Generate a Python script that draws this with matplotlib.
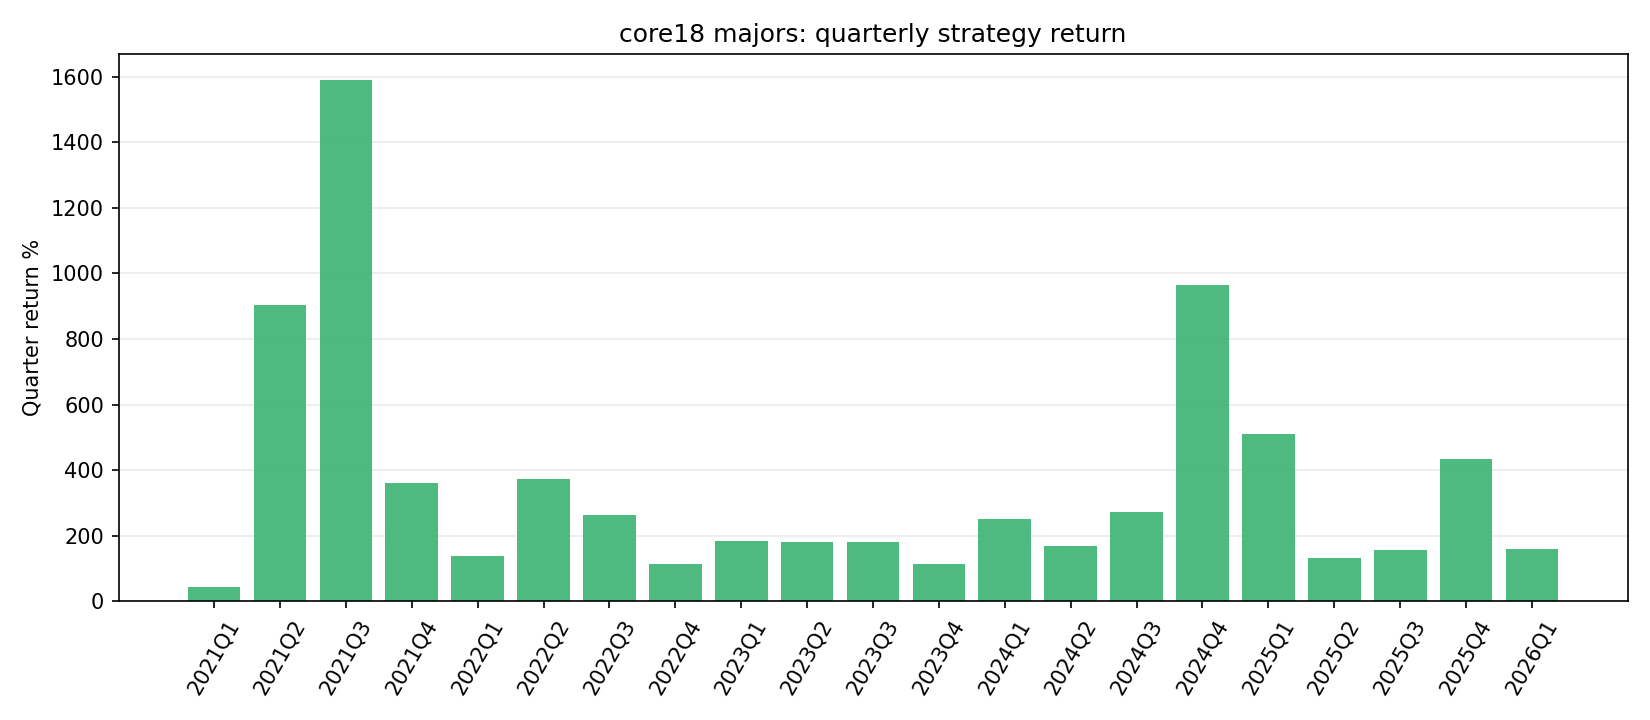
import matplotlib
matplotlib.use("Agg")
import matplotlib.pyplot as plt
import numpy as np

# Квартальная доходность стратегии, %
quarters = ['2021Q1', '2021Q2', '2021Q3', '2021Q4',
            '2022Q1', '2022Q2', '2022Q3', '2022Q4',
            '2023Q1', '2023Q2', '2023Q3', '2023Q4',
            '2024Q1', '2024Q2', '2024Q3', '2024Q4',
            '2025Q1', '2025Q2', '2025Q3', '2025Q4',
            '2026Q1']
returns = [42, 904, 1590, 362,
           139, 374, 264, 115,
           185, 182, 182, 115,
           252, 170, 273, 965,
           511, 133, 155, 435,
           158]

fig, ax = plt.subplots(figsize=(11, 4.8), dpi=150)
x = np.arange(len(quarters))
ax.bar(x, returns, width=0.8, color='#3cb371', alpha=0.9)
ax.set_xticks(x)
ax.set_xticklabels(quarters, rotation=60)
ax.set_xlim(-1.45, len(quarters) - 1 + 1.45)
ax.set_ylim(0, max(returns) * 1.05)
ax.set_title('core18 majors: quarterly strategy return')
ax.set_ylabel('Quarter return %')
ax.grid(axis='y', alpha=0.25)
ax.set_axisbelow(True)

plt.tight_layout()
plt.savefig('out.png')
